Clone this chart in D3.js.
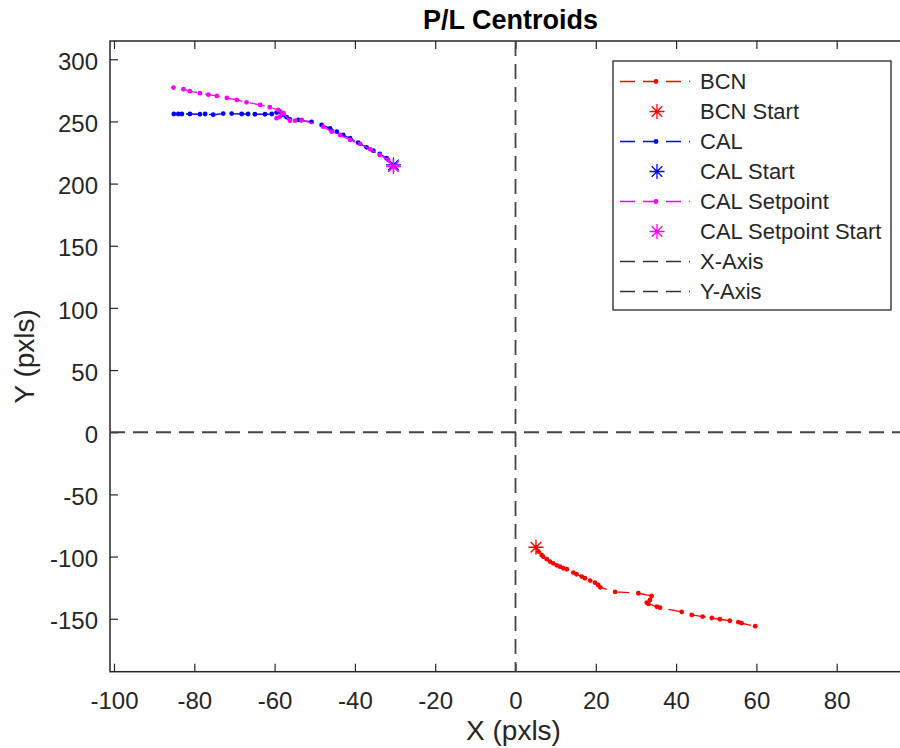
<!DOCTYPE html>
<html>
<head>
<meta charset="utf-8">
<script src="https://cdn.jsdelivr.net/npm/d3@7"></script>
<style>
  body { margin: 0; background: #fff; }
  svg { display: block; font-family: "Liberation Sans", Arial, sans-serif; }
</style>
</head>
<body>
<svg id="chart" width="900" height="748"></svg>
<script>
// P/L Centroids
const bcnX = [5.1, 5.7, 6.5, 6.9, 7.8, 8.6, 9.4, 10.3, 11.1, 11.9, 12.8, 14.4, 15.2, 16.5, 17.3, 18.6, 19.8, 20.6, 21.1, 24.8, 30.6, 33.9, 33.5, 32.7, 33.1, 35.2, 36.0, 41.4, 43.9, 46.6, 48.9, 50.9, 53.4, 55.5, 56.3, 59.7];
const bcnY = [-92.5, -96.0, -98.7, -100.1, -102.1, -104.1, -105.4, -107.0, -108.1, -109.4, -110.2, -112.9, -114.2, -116.1, -117.4, -119.3, -121.0, -122.8, -124.7, -128.4, -129.5, -131.7, -134.9, -137.1, -138.1, -140.3, -141.1, -144.5, -146.9, -148.3, -149.4, -150.4, -151.6, -152.8, -153.6, -156.0];

const calX = [-30.4, -32.1, -33.8, -35.4, -37.1, -39.2, -41.2, -42.9, -44.5, -46.2, -48.3, -50.8, -53.3, -54.1, -56.2, -57.0, -57.8, -58.7, -59.5, -60.7, -62.4, -64.9, -66.6, -68.2, -70.7, -72.8, -75.3, -77.3, -78.6, -81.1, -83.1, -84.0, -85.1];
const calY = [215.0, 220.4, 223.8, 226.5, 229.2, 232.9, 236.5, 239.1, 241.8, 244.5, 247.2, 249.6, 250.9, 251.2, 251.7, 253.4, 255.2, 257.9, 257.1, 256.0, 255.8, 255.8, 256.0, 256.0, 256.3, 256.3, 255.4, 256.0, 255.8, 256.0, 256.0, 256.0, 256.0];

const setX = [-30.4, -31.7, -33.8, -36.2, -38.7, -41.2, -43.7, -45.8, -47.9, -53.3, -54.9, -56.2, -57.8, -59.5, -58.7, -58.2, -59.1, -61.2, -63.6, -67.0, -69.4, -71.9, -74.4, -76.5, -78.6, -81.1, -82.7, -85.2];
const setY = [213.6, 219.0, 223.0, 227.6, 231.9, 235.1, 239.1, 241.8, 245.8, 251.2, 250.6, 250.6, 256.6, 252.6, 253.8, 257.1, 259.2, 261.4, 263.3, 265.4, 267.3, 268.9, 270.5, 271.5, 272.7, 274.3, 275.9, 277.2];

const xTicks = [-100, -80, -60, -40, -20, 0, 20, 40, 60, 80];
const yTicks = [-150, -100, -50, 0, 50, 100, 150, 200, 250, 300];
const xLim = [-101, 100];
const yLim = [-192.6, 314.7];

const seriesNames = ["BCN", "CAL", "CAL Setpoint"];
const seriesColors = ["#ff0000", "#0000ff", "#ff00ff"];

const textCol = "#262626";
const dash = "15,8";

const svg = d3.select("#chart");
const mLeft = 110, mRight = 917, mTop = 41, mBottom = 671.7;

const x = d3.scaleLinear().domain(xLim).range([mLeft, mRight]);
const y = d3.scaleLinear().domain(yLim).range([mBottom, mTop]);

// plain hyphen for negatives, like MATLAB
const fmt = d => String(d);

// axes box + ticks (inward, MATLAB style)
svg.append("g")
    .attr("transform", `translate(0,${mBottom})`)
    .call(d3.axisBottom(x).tickValues(xTicks).tickSize(-8).tickPadding(20).tickFormat(fmt))
    .call(g => g.select(".domain").remove())
    .call(g => g.selectAll("line").attr("stroke", textCol).attr("stroke-width", 1.2))
    .call(g => g.selectAll("text").attr("fill", textCol).attr("font-size", 24).attr("font-family", null));

svg.append("g")
    .attr("transform", `translate(0,${mTop})`)
    .call(d3.axisTop(x).tickValues(xTicks).tickSize(-8).tickFormat(""))
    .call(g => g.select(".domain").remove())
    .call(g => g.selectAll("line").attr("stroke", textCol).attr("stroke-width", 1.2));

svg.append("g")
    .attr("transform", `translate(${mLeft},0)`)
    .call(d3.axisLeft(y).tickValues(yTicks).tickSize(-8).tickPadding(12).tickFormat(fmt))
    .call(g => g.select(".domain").remove())
    .call(g => g.selectAll("line").attr("stroke", textCol).attr("stroke-width", 1.2))
    .call(g => g.selectAll("text").attr("fill", textCol).attr("font-size", 24).attr("font-family", null).attr("dy", "0.42em"));

svg.append("rect")
    .attr("x", mLeft).attr("y", mTop)
    .attr("width", mRight - mLeft).attr("height", mBottom - mTop)
    .attr("fill", "none").attr("stroke", textCol).attr("stroke-width", 1.5);

// zero lines
svg.append("line")
    .attr("x1", x(xLim[0])).attr("x2", x(xLim[1]))
    .attr("y1", y(0)).attr("y2", y(0))
    .attr("stroke", "#444").attr("stroke-width", 1.8).attr("stroke-dasharray", dash);
svg.append("line")
    .attr("x1", x(0)).attr("x2", x(0))
    .attr("y1", y(yLim[1])).attr("y2", y(yLim[0]))
    .attr("stroke", "#444").attr("stroke-width", 1.8).attr("stroke-dasharray", dash);

function star(g, cx, cy, r, col) {
    const d = r * Math.SQRT1_2;
    g.append("path")
        .attr("d", `M${cx - r},${cy}L${cx + r},${cy}M${cx},${cy - r}L${cx},${cy + r}` +
            `M${cx - d},${cy - d}L${cx + d},${cy + d}M${cx - d},${cy + d}L${cx + d},${cy - d}`)
        .attr("stroke", col).attr("stroke-width", 1.3).attr("fill", "none");
}

const series = [[bcnX, bcnY], [calX, calY], [setX, setY]];
const line = d3.line().x(d => x(d[0])).y(d => y(d[1]));

series.forEach(([xs, ys], i) => {
    const pts = xs.map((v, j) => [v, ys[j]]);
    const col = seriesColors[i];
    const g = svg.append("g");
    g.append("path")
        .datum(pts)
        .attr("d", line)
        .attr("fill", "none")
        .attr("stroke", col)
        .attr("stroke-width", 1.3)
        .attr("stroke-dasharray", dash);
    g.selectAll("circle")
        .data(pts)
        .enter()
        .append("circle")
        .attr("cx", d => x(d[0]))
        .attr("cy", d => y(d[1]))
        .attr("r", 2.4)
        .attr("fill", col);
    star(g, x(pts[0][0]), y(pts[0][1]), 7.5, col);
});

// title and labels
svg.append("text")
    .attr("x", (mLeft + mRight) / 2 - 3).attr("y", 29)
    .attr("text-anchor", "middle")
    .attr("font-size", 27).attr("font-weight", "bold")
    .attr("fill", "#000")
    .text("P/L Centroids");

svg.append("text")
    .attr("x", (mLeft + mRight) / 2).attr("y", 740)
    .attr("text-anchor", "middle")
    .attr("font-size", 28).attr("fill", textCol)
    .text("X (pxls)");

svg.append("text")
    .attr("transform", `translate(34,${(mTop + mBottom) / 2}) rotate(-90)`)
    .attr("text-anchor", "middle")
    .attr("font-size", 28).attr("fill", textCol)
    .text("Y (pxls)");

// legend
const legItems = [
    { name: "BCN", col: seriesColors[0], type: "line" },
    { name: "BCN Start", col: seriesColors[0], type: "star" },
    { name: "CAL", col: seriesColors[1], type: "line" },
    { name: "CAL Start", col: seriesColors[1], type: "star" },
    { name: "CAL Setpoint", col: seriesColors[2], type: "line" },
    { name: "CAL Setpoint Start", col: seriesColors[2], type: "star" },
    { name: "X-Axis", col: "#333", type: "axis" },
    { name: "Y-Axis", col: "#333", type: "axis" }
];

const leg = svg.append("g");
leg.append("rect")
    .attr("x", 613).attr("y", 61).attr("width", 278).attr("height", 249)
    .attr("fill", "#fff").attr("stroke", textCol).attr("stroke-width", 1.3);

legItems.forEach((d, i) => {
    const ly = 81.5 + i * 30;
    if (d.type !== "star") {
        leg.append("line")
            .attr("x1", 620).attr("x2", 690).attr("y1", ly).attr("y2", ly)
            .attr("stroke", d.col).attr("stroke-width", 1.3).attr("stroke-dasharray", dash);
    }
    if (d.type === "line") {
        leg.append("circle").attr("cx", 656).attr("cy", ly).attr("r", 2.4).attr("fill", d.col);
    }
    if (d.type === "star") {
        star(leg, 657, ly, 7.5, d.col);
    }
    leg.append("text")
        .attr("x", 700).attr("y", ly)
        .attr("dy", "0.36em")
        .attr("font-size", 22).attr("fill", textCol)
        .text(d.name);
});
</script>
</body>
</html>
